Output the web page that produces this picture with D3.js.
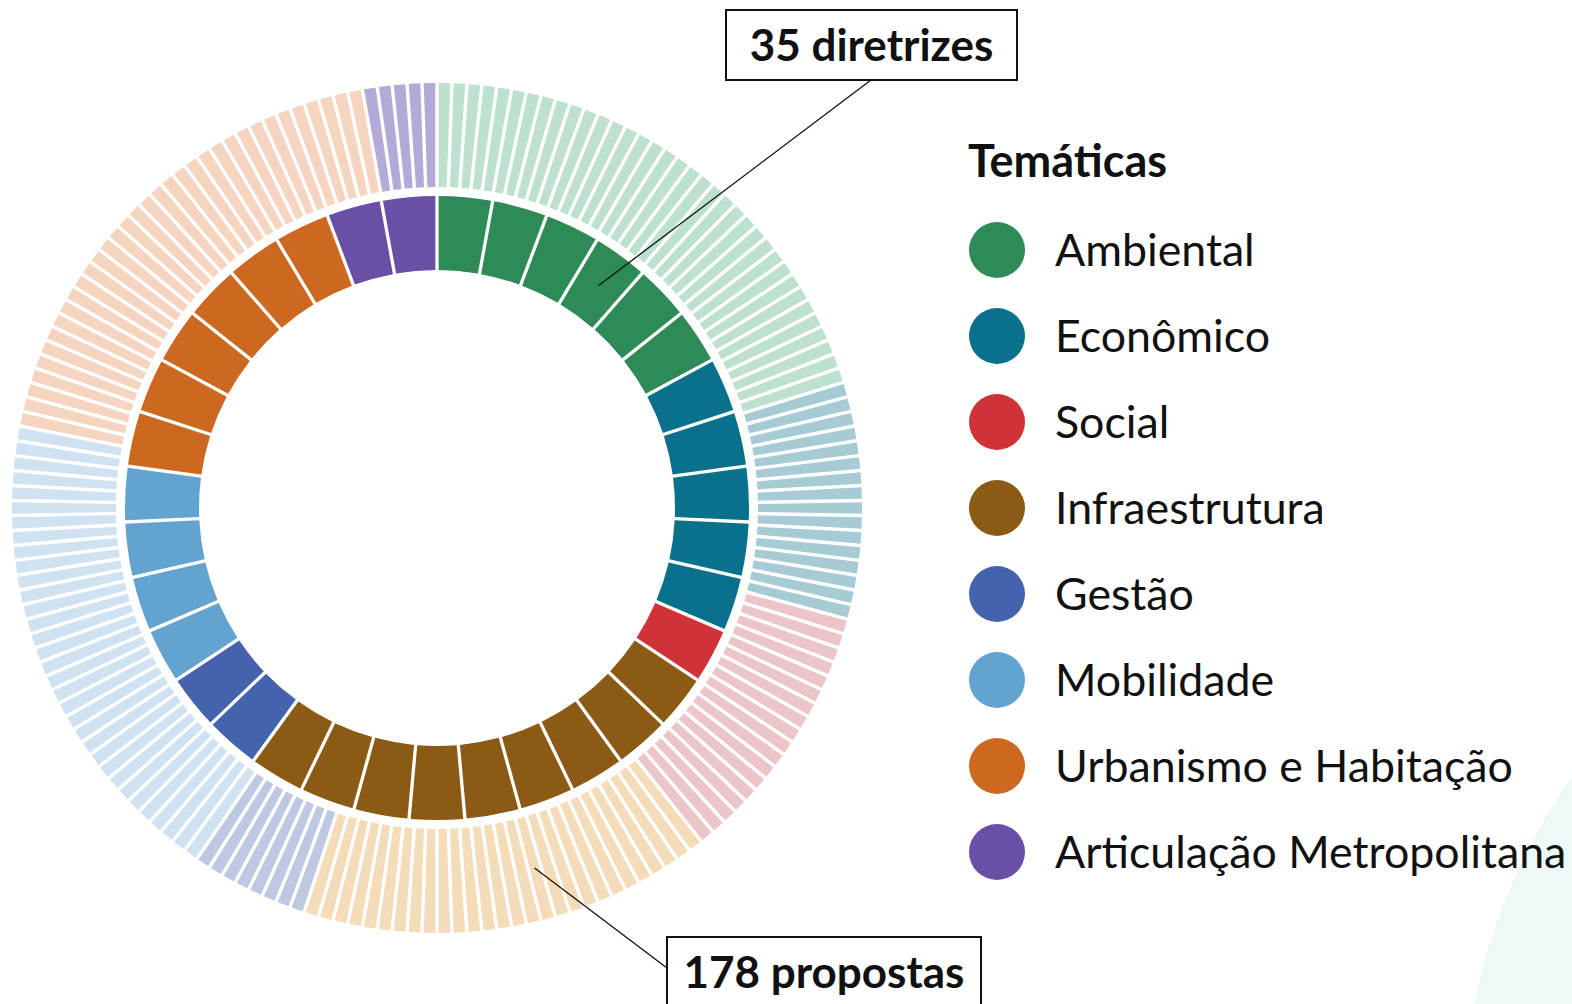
<!DOCTYPE html>
<html>
<head>
<meta charset="utf-8">
<script src="https://cdn.jsdelivr.net/npm/d3@7"></script>
<style>
  html, body { margin: 0; padding: 0; background: #fff; }
  svg { display: block; }
  text { font-family: Lato, "Noto Sans", sans-serif; fill: #111; }
</style>
</head>
<body>
<div id="graph"></div>
<script>
// thematic categories, clockwise from the top
const categories = ['Ambiental', 'Econômico', 'Social', 'Infraestrutura', 'Gestão', 'Mobilidade', 'Urbanismo e Habitação', 'Articulação Metropolitana'];
const diretrizes = [6, 5, 1, 9, 2, 4, 6, 2];          // inner ring, total 35
const propostas = [36, 16, 18, 28, 8, 33, 34, 5];     // outer ring, total 178
const darkColors = ['#2e8b57', '#0a718c', '#d03337', '#8b5a14', '#4563ad', '#63a3d0', '#cd6820', '#6a4fa7'];
const lightColors = ['#bde0cf', '#a6cbd5', '#ebc5c8', '#f3dcb7', '#bfc8e2', '#d0e2f1', '#f5d5c0', '#b5a9d7'];
const legendTitle = 'Temáticas';
const labelDiretrizes = '35 diretrizes';
const labelPropostas = '178 propostas';

let width = 1572,
  height = 1004,
  cx = 437,
  cy = 508;

const svg = d3.select('#graph').append('svg')
  .attr('width', width)
  .attr('height', height);

// faint background blob, bottom right
svg.append('circle')
  .attr('cx', 2065).attr('cy', 1122).attr('r', 602)
  .attr('fill', '#ecf9f6');

// one item per diretriz / proposta
function expand(counts) {
  let items = [];
  counts.forEach(function(n, c) {
    d3.range(n).forEach(function() { items.push({ cat: c }); });
  });
  return items;
}

const color = d3.scaleOrdinal().domain(d3.range(categories.length)).range(darkColors);
const colorLight = d3.scaleOrdinal().domain(d3.range(categories.length)).range(lightColors);

const pieInner = d3.pie().value(1).sort(null).padAngle(0.011);
const pieOuter = d3.pie().value(1).sort(null).padAngle(0.0085);

const arcInner = d3.arc().innerRadius(238).outerRadius(312).padRadius(300);
const arcOuter = d3.arc().innerRadius(321).outerRadius(425).padRadius(400);

const chart = svg.append('g').attr('transform', 'translate(' + [cx, cy] + ')');

const innerArcs = pieInner(expand(diretrizes));
const outerArcs = pieOuter(expand(propostas));

chart.append('g').selectAll('path')
  .data(outerArcs)
  .enter().append('path')
  .attr('d', arcOuter)
  .attr('fill', function(d) { return colorLight(d.data.cat); });

chart.append('g').selectAll('path')
  .data(innerArcs)
  .enter().append('path')
  .attr('d', arcInner)
  .attr('fill', function(d) { return color(d.data.cat); });

// callouts
function callout(label, box, target, from) {
  const p = target;
  svg.append('line')
    .attr('x1', from[0]).attr('y1', from[1])
    .attr('x2', cx + p[0]).attr('y2', cy + p[1])
    .attr('stroke', '#111').attr('stroke-width', 1.3);
  svg.append('rect')
    .attr('x', box.x).attr('y', box.y)
    .attr('width', box.w).attr('height', box.h)
    .attr('fill', '#fff').attr('stroke', '#111').attr('stroke-width', 2);
  svg.append('text')
    .attr('x', box.x + box.w / 2).attr('y', box.ty)
    .attr('text-anchor', 'middle')
    .attr('font-size', 44).attr('font-weight', 'bold')
    .text(label);
}

callout(labelDiretrizes, { x: 726, y: 10, w: 291, h: 70, ty: 61 }, arcInner.centroid(innerArcs[3]), [871, 80]);
callout(labelPropostas, { x: 667, y: 937, w: 314, h: 90, ty: 988 }, arcOuter.centroid(outerArcs[81]), [667, 968]);

// legend
const legend = svg.append('g').attr('transform', 'translate(971, 0)');

legend.append('text')
  .attr('x', -3).attr('y', 177)
  .attr('font-size', 45).attr('font-weight', 'bold')
  .text(legendTitle);

const y = d3.scalePoint().domain(d3.range(categories.length)).range([250, 852]);

const rows = legend.selectAll('g.row')
  .data(categories)
  .enter().append('g')
  .classed('row', true)
  .attr('transform', function(d, i) { return 'translate(0,' + y(i) + ')'; });

rows.append('circle')
  .attr('cx', 26).attr('cy', 0).attr('r', 28)
  .attr('fill', function(d, i) { return color(i); });

rows.append('text')
  .attr('x', 84).attr('y', 0).attr('dy', '0.35em')
  .attr('font-size', 44.7)
  .text(function(d) { return d; });
</script>
</body>
</html>
